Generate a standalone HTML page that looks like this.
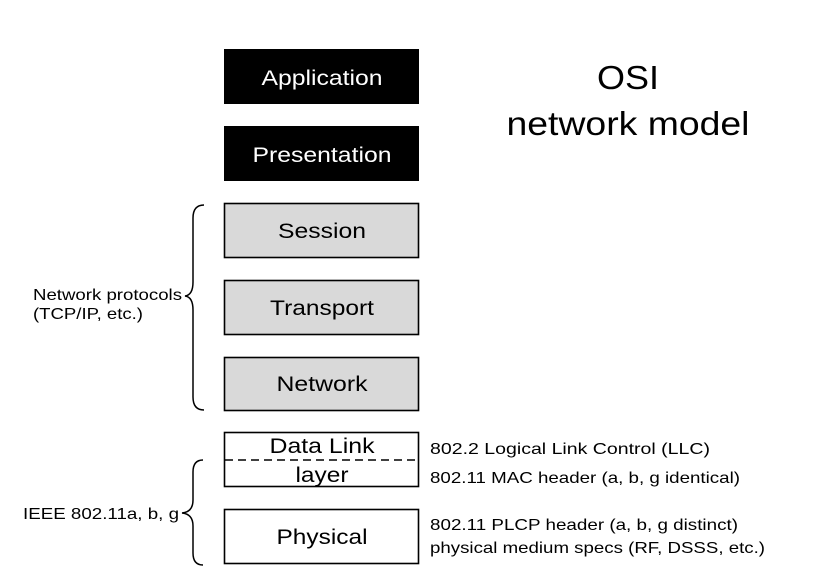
<!DOCTYPE html>
<html><head><meta charset="utf-8"><style>body{margin:0;background:#fff}svg{display:block}</style></head><body>
<svg width="836" height="572" viewBox="0 0 836 572" xmlns="http://www.w3.org/2000/svg" font-family="Liberation Sans, Arial, sans-serif">
<rect x="224" y="49" width="195" height="55" fill="#000"/>
<text x="322" y="85" font-size="21" fill="#fff" text-anchor="middle" textLength="121" lengthAdjust="spacingAndGlyphs">Application</text>
<rect x="224" y="126" width="195" height="55" fill="#000"/>
<text x="322" y="162" font-size="21" fill="#fff" text-anchor="middle" textLength="139" lengthAdjust="spacingAndGlyphs">Presentation</text>
<g fill="#d9d9d9" stroke="#000" stroke-width="1.6">
<rect x="224.5" y="203.5" width="194" height="54"/>
<rect x="224.5" y="280.5" width="194" height="54"/>
<rect x="224.5" y="357.5" width="194" height="53"/>
</g>
<g fill="#fff" stroke="#000" stroke-width="1.6">
<rect x="224.5" y="432.5" width="194" height="54"/>
<rect x="224.5" y="509.5" width="194" height="54"/>
</g>
<line x1="225" y1="460" x2="418" y2="460" stroke="#000" stroke-width="1.6" stroke-dasharray="8,5"/>
<g font-size="21" text-anchor="middle" fill="#000" lengthAdjust="spacingAndGlyphs">
<text x="322" y="238" textLength="88" lengthAdjust="spacingAndGlyphs">Session</text>
<text x="322" y="315" textLength="104" lengthAdjust="spacingAndGlyphs">Transport</text>
<text x="322" y="391" textLength="91" lengthAdjust="spacingAndGlyphs">Network</text>
<text x="322" y="453" textLength="105" lengthAdjust="spacingAndGlyphs">Data Link</text>
<text x="322" y="482" textLength="53" lengthAdjust="spacingAndGlyphs">layer</text>
<text x="322" y="544" textLength="91" lengthAdjust="spacingAndGlyphs">Physical</text>
</g>
<g font-size="33" text-anchor="middle">
<text x="628" y="89" textLength="62" lengthAdjust="spacingAndGlyphs">OSI</text>
<text x="628" y="135" textLength="243" lengthAdjust="spacingAndGlyphs">network model</text></g>
<g font-size="16">
<text x="33" y="300" textLength="149" lengthAdjust="spacingAndGlyphs">Network protocols</text>
<text x="33" y="319" textLength="110" lengthAdjust="spacingAndGlyphs">(TCP/IP, etc.)</text>
<text x="23" y="519" textLength="156" lengthAdjust="spacingAndGlyphs">IEEE 802.11a, b, g</text>
<text x="430" y="454" textLength="280" lengthAdjust="spacingAndGlyphs">802.2   Logical Link Control (LLC)</text>
<text x="430" y="483" textLength="310" lengthAdjust="spacingAndGlyphs">802.11 MAC header (a, b, g identical)</text>
<text x="430" y="530" textLength="308" lengthAdjust="spacingAndGlyphs">802.11 PLCP header (a, b, g distinct)</text>
<text x="430" y="553" textLength="335" lengthAdjust="spacingAndGlyphs">physical medium specs (RF, DSSS, etc.)</text>
</g>
<g fill="none" stroke="#000" stroke-width="1.5">
<path d="M204 205 Q193 205 193 218 L193 282 Q193 295 185 296 Q193 297 193 310 L193 397 Q193 410 204 410"/>
<path d="M203 460 Q193 460 193 472 L193 500 Q193 512 182 513 Q193 514 193 526 L193 553 Q193 565 203 565"/>
</g>
</svg>
</body></html>
